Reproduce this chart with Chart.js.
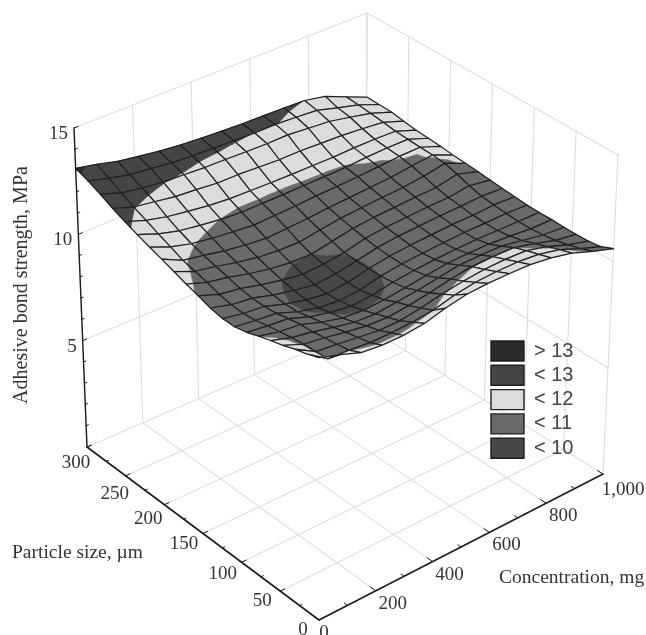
<!DOCTYPE html>
<html><head><meta charset="utf-8">
<style>html,body{margin:0;padding:0;background:#fff}canvas{display:block;filter:blur(0.35px)}</style>
<script src="https://cdn.jsdelivr.net/npm/chart.js@4"></script>
</head><body><canvas id="c" width="646" height="635"></canvas>
<script>
const concentrationsMg=[0,71.43,142.86,214.29,285.71,357.14,428.57,500,571.43,642.86,714.29,785.71,857.14,928.57,1000];
const particleSizesUm=[0,15,30,45,60,75,90,105,120,135,150,165,180,195,210,225,240,255,270,285,300];
const concentrationTicks=[0,200,400,600,800,1000];
const particleTicks=[0,50,100,150,200,250,300];
const strengthTicks=[5,10,15];
const bandLabels=['> 13','< 13','< 12','< 11','< 10'];
const bandColours=['#2b2b2b','#454545','#dcdcdc','#6a6a6a','#484848'];
const bandLimits=[13,12,11,10];
// surface height, one list per concentration, size from 0 to 300
const strengthAtC0=[11.85,11.65,11.5,11.3,11.15,10.98,10.78,10.66,10.66,10.77,10.95,11.12,11.32,11.52,11.7,11.9,12.12,12.36,12.64,12.9,13.1];
const strengthAtC1=[11.55,11.0,10.95,10.92,10.85,10.75,10.65,10.52,10.47,10.5,10.6,10.78,10.92,11.05,11.3,11.53,11.78,12.03,12.32,12.62,12.9];
const strengthAtC2=[11.2,10.95,10.85,10.78,10.68,10.65,10.55,10.42,10.37,10.38,10.45,10.6,10.73,10.87,11.04,11.27,11.55,11.88,12.15,12.4,12.65];
const strengthAtC3=[11.1,10.85,10.72,10.6,10.45,10.32,10.2,10.07,10.05,10.1,10.2,10.35,10.5,10.67,10.89,11.12,11.4,11.72,12.03,12.29,12.5];
const strengthAtC4=[11.1,10.85,10.6,10.45,10.25,10.08,9.97,9.82,9.82,9.9,10.0,10.15,10.32,10.53,10.78,10.99,11.27,11.65,11.98,12.17,12.35];
const strengthAtC5=[11.2,10.9,10.6,10.4,10.2,10.0,9.83,9.72,9.68,9.72,9.85,10.03,10.22,10.43,10.68,10.92,11.18,11.55,11.92,12.11,12.25];
const strengthAtC6=[11.46,11.0,10.75,10.5,10.3,10.05,9.9,9.78,9.78,9.82,9.9,10.0,10.2,10.48,10.72,10.93,11.16,11.55,11.9,12.07,12.18];
const strengthAtC7=[11.65,11.25,10.95,10.65,10.4,10.17,10.07,10.0,9.98,9.98,10.02,10.18,10.35,10.53,10.76,10.93,11.13,11.5,11.87,12.03,12.12];
const strengthAtC8=[11.7,11.4,11.1,10.85,10.55,10.3,10.18,10.13,10.13,10.18,10.25,10.36,10.48,10.62,10.82,10.95,11.12,11.45,11.85,12.0,12.08];
const strengthAtC9=[11.7,11.45,11.2,10.98,10.7,10.42,10.25,10.2,10.22,10.28,10.35,10.46,10.56,10.67,10.85,10.96,11.12,11.46,11.87,12.01,12.06];
const strengthAtC10=[11.67,11.45,11.22,11.0,10.72,10.45,10.3,10.25,10.27,10.33,10.4,10.51,10.62,10.74,10.9,10.98,11.11,11.42,11.78,11.95,12.04];
const strengthAtC11=[11.53,11.35,11.18,10.98,10.7,10.45,10.32,10.3,10.32,10.38,10.45,10.56,10.67,10.8,10.96,11.05,11.15,11.38,11.7,11.88,12.0];
const strengthAtC12=[11.3,11.12,10.92,10.72,10.52,10.38,10.3,10.3,10.33,10.4,10.47,10.6,10.78,10.92,11.03,11.08,11.15,11.3,11.5,11.6,11.8];
const strengthAtC13=[10.93,10.72,10.55,10.42,10.33,10.28,10.28,10.32,10.38,10.45,10.6,10.8,10.97,11.03,11.05,11.08,11.12,11.2,11.28,11.34,11.38];
const strengthAtC14=[10.6,10.35,10.27,10.25,10.25,10.27,10.27,10.28,10.33,10.38,10.44,10.5,10.55,10.6,10.67,10.72,10.76,10.85,10.94,10.96,10.97];
// band reading along the far edge at concentration 1,000, per size
const farEdgeBandValue=[10.6,10.4,10.28,10.25,10.28,10.32,10.36,10.4,10.47,10.57,10.72,10.92,11.02,11.04,11.05,11.06,11.07,11.08,11.09,11.1,11.1];

const strengthGrid=[strengthAtC0,strengthAtC1,strengthAtC2,strengthAtC3,strengthAtC4,strengthAtC5,strengthAtC6,strengthAtC7,strengthAtC8,strengthAtC9,strengthAtC10,strengthAtC11,strengthAtC12,strengthAtC13,strengthAtC14];

// view of the box: corners of floor and ceiling on the canvas
const F={a:[319,620],b:[603,474],c:[87,447],d:[366,326]};
const T={a:[319,288],b:[618,155],c:[74,128],d:[367,13]};
function bil(K,u,v,k){return K.a[k]*(1-u)*(1-v)+K.b[k]*u*(1-v)+K.c[k]*(1-u)*v+K.d[k]*u*v;}
function project(conc,size,z){
  const u=conc/1000,v=size/300,w=z/15;
  return {x:bil(F,u,v,0)*(1-w)+bil(T,u,v,0)*w,y:bil(F,u,v,1)*(1-w)+bil(T,u,v,1)*w};
}
const layers=[];
function line(pts,colour,width){layers.push({data:pts,borderColor:colour,borderWidth:width,borderDash:[100000],fill:false,showLine:true,pointRadius:0,tension:0,clip:false,borderCapStyle:'round',borderJoinStyle:'round'});}
function poly(pts,colour){const closed=pts.concat([pts[0]]);layers.push({data:closed.map(p=>({x:p.x,y:p.y})),borderColor:colour,borderWidth:0.7,borderDash:[100000],backgroundColor:colour,fill:'shape',showLine:true,pointRadius:0,tension:0,clip:false,borderJoinStyle:'round'});}

// walls and floor
const wall='#dedede';
concentrationTicks.forEach(c=>{line([project(c,300,0),project(c,300,15)],wall,1.1);if(c>0&&c<1000)line([project(c,0,0),project(c,300,0)],wall,1.1);});
particleTicks.forEach(s=>{line([project(1000,s,0),project(1000,s,15)],wall,1.1);if(s>0&&s<300)line([project(0,s,0),project(1000,s,0)],wall,1.1);});
[5,10,15].forEach(z=>{line([project(0,300,z),project(1000,300,z)],wall,1.1);line([project(1000,300,z),project(1000,0,z)],wall,1.1);});
line([project(0,300,0),project(1000,300,0)],wall,1.1);
line([project(1000,300,0),project(1000,0,0)],wall,1.1);

// axes
const axisCol='#1c1c1c';
line([project(0,300,0),project(0,300,15)],axisCol,1.4);
line([project(0,0,0),project(1000,0,0)],axisCol,1.6);
line([project(0,0,0),project(0,300,0)],axisCol,1.6);
for(let z=0;z<=15;z++){const maj=z%5===0;line([project(0,300,z),project(maj?14:8,300,z)],axisCol,1);}
for(let c=0;c<=1000;c+=100){const maj=c%200===0;line([project(c,0,0),project(c,maj?7:4,0)],axisCol,1);}
for(let s=0;s<=300;s+=25){const maj=s%50===0;line([project(0,s,0),project(maj?16:8,s,0)],axisCol,1);}

// surface, painted from the far corner to the near one
function bandOf(v){for(let b=0;b<bandLimits.length;b++){if(v>=bandLimits[b])return b;}return bandLimits.length;}
function vertex(i,j){const z=strengthGrid[i][j];const p=project(concentrationsMg[i],particleSizesUm[j],z);return {x:p.x,y:p.y,val:i===concentrationsMg.length-1?farEdgeBandValue[j]:z};}
function clip(pts,limit,keepAbove){
  const out=[];
  for(let k=0;k<pts.length;k++){
    const a=pts[k],b=pts[(k+1)%pts.length];
    const ina=keepAbove?a.val>=limit:a.val<limit,inb=keepAbove?b.val>=limit:b.val<limit;
    if(ina)out.push(a);
    if(ina!==inb){const t=(limit-a.val)/(b.val-a.val);out.push({x:a.x+t*(b.x-a.x),y:a.y+t*(b.y-a.y),val:limit});}
  }
  return out;
}
function paintTriangle(tri){
  for(let b=0;b<bandColours.length;b++){
    let p=tri;
    if(b>0)p=clip(p,bandLimits[b-1],false);
    if(b<bandLimits.length&&p.length)p=clip(p,bandLimits[b],true);
    if(p.length>=3)poly(p,bandColours[b]);
  }
}
for(let i=concentrationsMg.length-2;i>=0;i--){
  for(let j=particleSizesUm.length-2;j>=0;j--){
    const a=vertex(i,j),b=vertex(i+1,j),c=vertex(i+1,j+1),d=vertex(i,j+1);
    const bs=[a,b,c,d].map(q=>bandOf(q.val));
    if(bs.every(x=>x===bs[0]))poly([a,b,c,d],bandColours[bs[0]]);
    else{paintTriangle([a,b,c]);paintTriangle([a,c,d]);}
    line([a,b,c,d,a].map(q=>({x:q.x,y:q.y})),'#1f1f1f',1.2);
  }
}

const particleNudge={300:[5,6],250:[5,8],200:[0,4],150:[-3,1],100:[-3,2],50:[-2,0],0:[0,0]};
const textPlugin={id:'boxText',
  beforeLayout(chart){const l=chart.legend;l._layers=()=>[{z:5,draw(a){l.draw(a);}}];},
  afterLayout(chart){const l=chart.legend,pad=4.3;const w=l.width,h=l.height;l.left=491-pad;l.top=341-pad;l.right=l.left+w;l.bottom=l.top+h;},
  afterDraw(chart){
    const ctx=chart.ctx,X=chart.scales.x,Y=chart.scales.y;
    const at=(p,dx,dy,t,al)=>{ctx.textAlign=al||'center';ctx.fillText(t,X.getPixelForValue(p.x)+dx,Y.getPixelForValue(p.y)+dy);};
    ctx.save();ctx.fillStyle='#333';ctx.textBaseline='middle';ctx.font='19px "Liberation Serif"';
    strengthTicks.forEach(z=>at(project(0,300,z),-6,6,String(z),'right'));
    particleTicks.forEach(s=>at(project(0,s,0),-16+particleNudge[s][0],10+particleNudge[s][1],String(s)));
    concentrationTicks.forEach(c=>at(project(c,0,0),c===0?5:(c===1000?20:17),c===1000?16:13,c.toLocaleString('en-US')));
    ctx.font='19.5px "Liberation Serif"';ctx.textAlign='left';
    ctx.fillText('Particle size, µm',12,553);
    ctx.fillText('Concentration, mg',499,578);
    ctx.font='20px "Liberation Serif"';
    ctx.translate(22,285);ctx.rotate(-Math.PI/2);ctx.textAlign='center';
    ctx.fillText('Adhesive bond strength, MPa',0,0);
    ctx.restore();
  }};

new Chart(document.getElementById('c'),{
  type:'scatter',
  data:{datasets:layers.reverse()},
  options:{responsive:false,animation:false,events:[],layout:{padding:0},
    scales:{x:{type:'linear',min:0,max:646,display:false},y:{type:'linear',min:0,max:635,reverse:true,display:false}},
    plugins:{tooltip:{enabled:false},title:{display:false},
      legend:{display:true,position:'chartArea',align:'start',
        labels:{boxWidth:33,boxHeight:20,padding:4.3,color:'#444',font:{family:'"Liberation Sans"',size:20},
          generateLabels:()=>bandLabels.map((t,k)=>({text:t,fillStyle:bandColours[k],strokeStyle:'#1f1f1f',lineWidth:1.4,fontColor:'#444',hidden:false,index:k}))}}}},
  plugins:[textPlugin]
});
</script></body></html>
